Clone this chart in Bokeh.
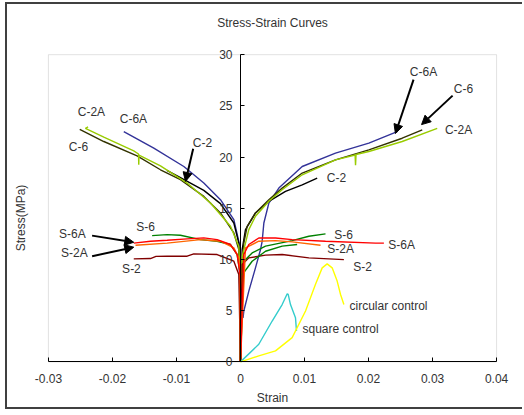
from bokeh.plotting import figure
from bokeh.models import (Range1d, FixedTicker, CustomJSTickFormatter, LinearAxis,
                          ColumnDataSource, Arrow, NormalHead, BoxAnnotation)
from bokeh.core.properties import value
from bokeh.embed import file_html
from bokeh.resources import INLINE

FONT = "Liberation Sans"
TXT = "#333333"

# ---------------- data ----------------
x_ticks = [-0.03, -0.02, -0.01, 0, 0.01, 0.02, 0.03, 0.04]
y_ticks = [0, 5, 10, 15, 20, 25, 30]

# C-6 (dark olive)
c6_left_strain = [0, -0.00005, -0.00026, -0.00104, -0.00313, -0.00573, -0.00938, -0.0125, -0.01615, -0.02135, -0.02511]
c6_left_stress = [0, 8.0, 10.97, 12.59, 14.54, 16.16, 17.79, 18.76, 20.12, 21.52, 22.71]
c6_right_strain = [0, 0.0001, 0.00052, 0.00104, 0.00234, 0.00443, 0.00651, 0.00964, 0.01484, 0.02005, 0.02526, 0.02839]
c6_right_stress = [0, 5.0, 11.6, 13.24, 14.54, 15.84, 16.97, 18.44, 19.73, 20.7, 21.84, 22.66]

# C-2A (yellow green)
c2a_left_strain = [0, -0.00005, -0.00026, -0.00156, -0.00469, -0.00833, -0.0125, -0.01585, -0.01589, -0.01593, -0.01667, -0.02135, -0.02422, -0.0238]
c2a_left_stress = [0, 8.0, 11.3, 13.24, 15.51, 17.46, 19.14, 20.2, 19.25, 20.3, 20.6, 21.94, 22.81, 22.95]
c2a_right_strain = [0, 0.0001, 0.00026, 0.00078, 0.0013, 0.00234, 0.00443, 0.00651, 0.00964, 0.01484, 0.0179, 0.01797, 0.01805, 0.02005, 0.02526, 0.03073]
c2a_right_stress = [0, 5.0, 10.3, 11.6, 12.92, 14.22, 15.68, 16.81, 18.27, 19.73, 20.2, 19.2, 20.25, 20.54, 21.52, 22.81]

# C-2 (black)
c2_left_strain = [0, -0.00005, -0.00026, -0.00104, -0.00313, -0.00573, -0.00938, -0.0115]
c2_left_stress = [0, 8.0, 11.6, 13.56, 15.45, 16.75, 18.0, 18.7]
c2_right_strain = [0, 0.0001, 0.00026, 0.00078, 0.00234, 0.00443, 0.00703, 0.00964, 0.01198]
c2_right_stress = [0, 5.0, 10.97, 12.92, 14.54, 15.68, 16.65, 17.29, 17.95]

# C-6A (blue)
c6a_left_strain = [0, -0.0001, -0.0002, -0.00104, -0.00313, -0.00573, -0.00885, -0.01354, -0.01823]
c6a_left_stress = [0, 6.0, 11.6, 13.89, 15.84, 17.46, 19.08, 20.87, 22.49]
c6a_right_strain = [0.0004, 0.00052, 0.0013, 0.00234, 0.00313, 0.00339, 0.00365, 0.00443, 0.00599, 0.00964, 0.01484, 0.02005, 0.02448]
c6a_right_stress = [4.3, 4.97, 6.91, 9.18, 10.97, 11.8, 13.56, 15.51, 16.97, 19.08, 20.38, 21.36, 22.49]

# S-6 (green)
s6_left_strain = [0, -0.00005, -0.00052, -0.00156, -0.00365, -0.00625, -0.00938, -0.01146, -0.0138]
s6_left_stress = [0, 8.54, 10.48, 11.46, 11.78, 11.94, 12.37, 12.43, 12.33]
s6_right_strain = [0, 0.00052, 0.00182, 0.00391, 0.00807, 0.01068, 0.01328]
s6_right_stress = [0, 9.83, 10.64, 11.3, 11.84, 12.27, 12.5]
s6_right2_strain = [0.00026, 0.00182, 0.00391, 0.00651, 0.00885]
s6_right2_stress = [8.5, 9.83, 10.8, 11.3, 11.46]

# S-6A (red)
s6a_left_strain = [0, -0.00005, -0.00052, -0.00156, -0.00365, -0.00573, -0.00833, -0.01146, -0.01406, -0.01667]
s6a_left_stress = [0, 8.5, 10.48, 11.46, 11.94, 12.11, 12.01, 11.88, 11.78, 11.6]
s6a_right_strain = [0, 0.00052, 0.0013, 0.00286, 0.00547, 0.00807, 0.01328, 0.02109, 0.0224]
s6a_right_stress = [0, 10.48, 11.46, 12.1, 12.1, 11.94, 11.78, 11.6, 11.6]

# S-2A (orange)
s2a_left_strain = [0, -0.00005, -0.00026, -0.00104, -0.00313, -0.00625, -0.01146, -0.0164]
s2a_left_stress = [0, 8.5, 10.16, 11.13, 11.78, 11.94, 11.6, 11.39]
s2a_right_strain = [0, 0.00078, 0.00286, 0.00547, 0.00807, 0.0125]
s2a_right_stress = [0, 11.13, 11.78, 11.84, 11.72, 11.39]

# S-2 (dark red)
s2_left_strain = [0, -0.00026, -0.00104, -0.00365, -0.0073, -0.00833, -0.01146, -0.0132, -0.01406, -0.01667]
s2_left_stress = [0, 8.54, 9.83, 10.48, 10.55, 10.32, 10.32, 10.3, 10.09, 10.06]
s2_right_strain = [0, 0.00026, 0.0013, 0.00391, 0.00651, 0.01068, 0.01615]
s2_right_stress = [0, 9.5, 10.16, 10.42, 10.48, 10.16, 9.99]

# controls
sq_strain = [0, 0.00286, 0.00495, 0.00651, 0.0073, 0.00745, 0.00781, 0.00859, 0.00875]
sq_stress = [0, 1.72, 3.99, 5.6, 6.65, 6.6, 5.6, 4.31, 3.02]
circ_strain = [0, 0.00286, 0.00547, 0.00807, 0.01016, 0.01172, 0.01276, 0.01354, 0.01432, 0.0151, 0.01563, 0.01615]
circ_stress = [0, 0.58, 1.07, 2.37, 4.97, 7.57, 9.18, 9.57, 9.18, 7.89, 6.58, 5.6]

# labels
lab_text = ["C-2A", "C-6A", "C-6", "C-2", "C-6A", "C-6", "C-2A", "C-2",
            "S-6A", "S-2A", "S-6", "S-2", "S-6", "S-6A", "S-2A", "S-2"]
lab_x = [-0.02328, -0.01672, -0.02531, -0.00594, 0.02859, 0.03484, 0.03406, 0.015,
         -0.02625, -0.02594, -0.01484, -0.01703, 0.01609, 0.02516, 0.01563, 0.01906]
lab_y = [24.44, 23.76, 21.03, 21.42, 28.33, 26.68, 22.69, 17.92,
         12.46, 10.61, 13.15, 9.06, 12.37, 11.39, 11.0, 9.25]
ctrl_text = ["circular control", "square control"]
ctrl_x = [0.01703, 0.00969]
ctrl_y = [5.45, 3.21]

arrow_x0 = [0.02703, 0.03313, -0.00739, -0.02318, -0.02318]
arrow_y0 = [27.56, 26.0, 20.81, 12.33, 10.32]
arrow_x1 = [0.0242, 0.02828, -0.00859, -0.01667, -0.01667]
arrow_y1 = [22.3, 23.17, 17.62, 11.68, 11.2]

# ---------------- figure ----------------
# plotted region is x -0.03..0.04, y 0..30; the frame is a bit larger so that
# the axis labels drawn at strain = 0 / stress = 0 are not clipped.
p = figure(width=517, height=407, output_backend="svg", toolbar_location=None,
           x_range=Range1d(-0.0328, 0.0428), y_range=Range1d(-2.6, 30.7),
           x_axis_location=None, y_axis_location=None,
           min_border_left=23, min_border_right=10,
           min_border_top=43, min_border_bottom=23,
           styles={"margin-left": "5px", "margin-top": "2px",
                   "border": "2px solid #404040", "border-right": "none"})
p.background_fill_color = "white"
p.border_fill_color = "white"
p.outline_line_color = None
p.grid.visible = False


def label_axis(text, standoff, bounds=None):
    kw = {} if bounds is None else {"bounds": bounds}
    return LinearAxis(ticker=FixedTicker(ticks=[]), axis_line_color=None,
                      major_tick_line_color=None, minor_tick_line_color=None,
                      major_label_text_font_size="0px",
                      axis_label=text, axis_label_text_font=FONT,
                      axis_label_text_font_size="12px", axis_label_text_font_style="normal",
                      axis_label_text_color=TXT, axis_label_standoff=standoff, **kw)


# chart title
p.add_layout(label_axis("Stress-Strain Curves", 18, bounds=(-0.03, 0.038)), "above")

# gray plot-area box
p.add_layout(BoxAnnotation(left=-0.03, right=0.04, bottom=0, top=30, fill_color=None,
                           fill_alpha=0, line_color="#a0a0a0", line_width=1, level="underlay"))

# x axis at stress = 0
xfix = LinearAxis(fixed_location=0, bounds=(-0.03, 0.04), ticker=FixedTicker(ticks=x_ticks),
                  formatter=CustomJSTickFormatter(code="return Math.abs(tick) < 1e-9 ? '0' : tick.toFixed(2);"),
                  axis_line_color="black", major_tick_in=4, major_tick_out=0,
                  minor_tick_line_color=None, major_label_standoff=12,
                  major_label_text_font=FONT, major_label_text_font_size="12px",
                  major_label_text_color=TXT)
p.add_layout(xfix, "below")
p.add_layout(label_axis("Strain", 2), "below")

# y axis at strain = 0
yfix = LinearAxis(fixed_location=0, bounds=(0, 30), ticker=FixedTicker(ticks=y_ticks),
                  axis_line_color="black", major_tick_in=4, major_tick_out=0,
                  minor_tick_line_color=None, major_label_standoff=8,
                  major_label_text_font=FONT, major_label_text_font_size="12px",
                  major_label_text_color=TXT)
p.add_layout(yfix, "left")
p.add_layout(label_axis("Stress(MPa)", 3, bounds=(0, 30)), "left")

LW = 1.4
curves = [
    (c6a_left_strain, c6a_left_stress, "#333399"), (c6a_right_strain, c6a_right_stress, "#333399"),
    (c2_left_strain, c2_left_stress, "#000000"), (c2_right_strain, c2_right_stress, "#000000"),
    (c6_left_strain, c6_left_stress, "#333300"), (c6_right_strain, c6_right_stress, "#333300"),
    (c2a_left_strain, c2a_left_stress, "#99CC00"), (c2a_right_strain, c2a_right_stress, "#99CC00"),
    (s2_left_strain, s2_left_stress, "#800000"), (s2_right_strain, s2_right_stress, "#800000"),
    (s6_left_strain, s6_left_stress, "#008000"), (s6_right_strain, s6_right_stress, "#008000"),
    (s6_right2_strain, s6_right2_stress, "#008000"),
    (s2a_left_strain, s2a_left_stress, "#FF6600"), (s2a_right_strain, s2a_right_stress, "#FF6600"),
    (s6a_left_strain, s6a_left_stress, "#FF0000"), (s6a_right_strain, s6a_right_stress, "#FF0000"),
    (sq_strain, sq_stress, "#33CCCC"), (circ_strain, circ_stress, "#FFFF00"),
]
for xs, ys, c in curves:
    p.line(xs, ys, line_color=c, line_width=LW)

lsrc = ColumnDataSource(dict(x=lab_x, y=lab_y, t=lab_text))
p.text(x="x", y="y", text="t", source=lsrc, text_align="center", text_baseline="middle",
       text_font=value(FONT), text_font_size="12px", text_color=TXT)
csrc = ColumnDataSource(dict(x=ctrl_x, y=ctrl_y, t=ctrl_text))
p.text(x="x", y="y", text="t", source=csrc, text_align="left", text_baseline="middle",
       text_font=value(FONT), text_font_size="12px", text_color=TXT)

asrc = ColumnDataSource(dict(x0=arrow_x0, y0=arrow_y0, x1=arrow_x1, y1=arrow_y1))
p.add_layout(Arrow(x_start="x0", y_start="y0", x_end="x1", y_end="y1", source=asrc,
                   line_color="black", line_width=2,
                   end=NormalHead(size=9, fill_color="black", line_color="black", line_width=1)))

open("out.html", "w").write(file_html(p, INLINE))
